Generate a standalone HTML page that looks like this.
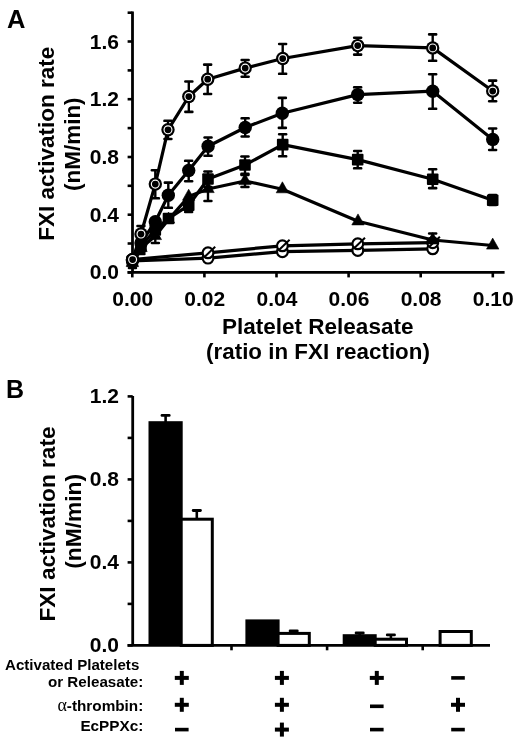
<!DOCTYPE html><html><head><meta charset="utf-8"><style>html,body{margin:0;padding:0;background:#fff;}svg{display:block;filter:grayscale(100%);}text{font-family:"Liberation Sans", sans-serif;font-weight:bold;fill:#000;}</style></head><body>
<svg width="520" height="743" viewBox="0 0 520 743">
<rect width="520" height="743" fill="#fff"/>
<text x="7.1" y="27.5" font-size="25.5">A</text>
<line x1="132.5" y1="11.5" x2="132.5" y2="272.4" stroke="#000" stroke-width="2.8"/>
<line x1="127.6" y1="272.4" x2="132.5" y2="272.4" stroke="#000" stroke-width="2.6"/>
<line x1="127.6" y1="243.5" x2="132.5" y2="243.5" stroke="#000" stroke-width="2.6"/>
<line x1="127.6" y1="214.7" x2="132.5" y2="214.7" stroke="#000" stroke-width="2.6"/>
<line x1="127.6" y1="185.8" x2="132.5" y2="185.8" stroke="#000" stroke-width="2.6"/>
<line x1="127.6" y1="157.0" x2="132.5" y2="157.0" stroke="#000" stroke-width="2.6"/>
<line x1="127.6" y1="128.1" x2="132.5" y2="128.1" stroke="#000" stroke-width="2.6"/>
<line x1="127.6" y1="99.2" x2="132.5" y2="99.2" stroke="#000" stroke-width="2.6"/>
<line x1="127.6" y1="70.4" x2="132.5" y2="70.4" stroke="#000" stroke-width="2.6"/>
<line x1="127.6" y1="41.5" x2="132.5" y2="41.5" stroke="#000" stroke-width="2.6"/>
<line x1="127.6" y1="12.7" x2="132.5" y2="12.7" stroke="#000" stroke-width="2.6"/>
<line x1="127.6" y1="272.4" x2="504.6" y2="272.4" stroke="#000" stroke-width="2.8"/>
<line x1="132.3" y1="272.4" x2="132.3" y2="277.4" stroke="#000" stroke-width="2.6"/>
<line x1="204.4" y1="272.4" x2="204.4" y2="277.4" stroke="#000" stroke-width="2.6"/>
<line x1="276.5" y1="272.4" x2="276.5" y2="277.4" stroke="#000" stroke-width="2.6"/>
<line x1="348.6" y1="272.4" x2="348.6" y2="277.4" stroke="#000" stroke-width="2.6"/>
<line x1="420.7" y1="272.4" x2="420.7" y2="277.4" stroke="#000" stroke-width="2.6"/>
<line x1="492.8" y1="272.4" x2="492.8" y2="277.4" stroke="#000" stroke-width="2.6"/>
<text x="119" y="279.4" font-size="21" text-anchor="end">0.0</text>
<text x="119" y="221.7" font-size="21" text-anchor="end">0.4</text>
<text x="119" y="164.0" font-size="21" text-anchor="end">0.8</text>
<text x="119" y="106.2" font-size="21" text-anchor="end">1.2</text>
<text x="119" y="48.5" font-size="21" text-anchor="end">1.6</text>
<text x="132.7" y="306" font-size="21" text-anchor="middle">0.00</text>
<text x="204.8" y="306" font-size="21" text-anchor="middle">0.02</text>
<text x="276.9" y="306" font-size="21" text-anchor="middle">0.04</text>
<text x="349.0" y="306" font-size="21" text-anchor="middle">0.06</text>
<text x="421.1" y="306" font-size="21" text-anchor="middle">0.08</text>
<text x="493.2" y="306" font-size="21" text-anchor="middle">0.10</text>
<text x="317.7" y="333.8" font-size="22.4" text-anchor="middle" textLength="191.6" lengthAdjust="spacingAndGlyphs">Platelet Releasate</text>
<text x="318.0" y="358.9" font-size="22.4" text-anchor="middle" textLength="223.8" lengthAdjust="spacingAndGlyphs">(ratio in FXI reaction)</text>
<text transform="translate(54.4,143.7) rotate(-90)" font-size="22.6" text-anchor="middle" textLength="194.2" lengthAdjust="spacingAndGlyphs">FXI activation rate</text>
<text transform="translate(79.8,144.2) rotate(-90)" font-size="22.6" text-anchor="middle" textLength="93.6" lengthAdjust="spacingAndGlyphs">(nM/min)</text>
<polyline fill="none" stroke="#000" stroke-width="3.2" stroke-linejoin="round" points="132.4,261.0 208.0,258.1 282.4,251.7 357.8,250.4 432.7,248.8"/><circle cx="132.4" cy="261.0" r="5.4" fill="#fff" stroke="#000" stroke-width="2.2"/><circle cx="208.0" cy="258.1" r="5.4" fill="#fff" stroke="#000" stroke-width="2.2"/><circle cx="282.4" cy="251.7" r="5.4" fill="#fff" stroke="#000" stroke-width="2.2"/><circle cx="357.8" cy="250.4" r="5.4" fill="#fff" stroke="#000" stroke-width="2.2"/><circle cx="432.7" cy="248.8" r="5.4" fill="#fff" stroke="#000" stroke-width="2.2"/>
<polyline fill="none" stroke="#000" stroke-width="3.2" stroke-linejoin="round" points="132.4,259.5 208.0,252.8 282.4,245.8 357.8,243.8 432.7,242.7"/><circle cx="132.4" cy="259.5" r="5.4" fill="#fff" stroke="#000" stroke-width="2.2"/><line x1="128.4" y1="264.1" x2="139.6" y2="253.5" stroke="#000" stroke-width="2"/><circle cx="208.0" cy="252.8" r="5.4" fill="#fff" stroke="#000" stroke-width="2.2"/><line x1="204.0" y1="257.4" x2="215.2" y2="246.8" stroke="#000" stroke-width="2"/><circle cx="282.4" cy="245.8" r="5.4" fill="#fff" stroke="#000" stroke-width="2.2"/><line x1="278.4" y1="250.4" x2="289.6" y2="239.8" stroke="#000" stroke-width="2"/><circle cx="357.8" cy="243.8" r="5.4" fill="#fff" stroke="#000" stroke-width="2.2"/><line x1="353.8" y1="248.4" x2="365.0" y2="237.8" stroke="#000" stroke-width="2"/><circle cx="432.7" cy="242.7" r="5.4" fill="#fff" stroke="#000" stroke-width="2.2"/><line x1="428.7" y1="247.3" x2="439.9" y2="236.7" stroke="#000" stroke-width="2"/>
<polyline fill="none" stroke="#000" stroke-width="3.2" stroke-linejoin="round" points="132.4,263.0 141.0,248.0 155.3,236.0 168.5,219.5 188.7,196.6 208.0,189.0 245.0,181.0 282.4,189.2 358.0,221.3 432.7,240.0 492.7,245.5"/><line x1="132.4" y1="258.0" x2="132.4" y2="268.0" stroke="#000" stroke-width="2.4"/><rect x="127.7" y="256.7" width="9.5" height="2.6" rx="1.2" fill="#000"/><rect x="127.7" y="266.7" width="9.5" height="2.6" rx="1.2" fill="#000"/><line x1="141.0" y1="242.0" x2="141.0" y2="254.0" stroke="#000" stroke-width="2.4"/><rect x="136.2" y="240.7" width="9.5" height="2.6" rx="1.2" fill="#000"/><rect x="136.2" y="252.7" width="9.5" height="2.6" rx="1.2" fill="#000"/><line x1="155.3" y1="230.0" x2="155.3" y2="243.0" stroke="#000" stroke-width="2.4"/><rect x="150.6" y="228.7" width="9.5" height="2.6" rx="1.2" fill="#000"/><rect x="150.6" y="241.7" width="9.5" height="2.6" rx="1.2" fill="#000"/><line x1="208.0" y1="177.0" x2="208.0" y2="201.0" stroke="#000" stroke-width="2.4"/><rect x="203.2" y="175.7" width="9.5" height="2.6" rx="1.2" fill="#000"/><rect x="203.2" y="199.7" width="9.5" height="2.6" rx="1.2" fill="#000"/><line x1="245.0" y1="175.0" x2="245.0" y2="187.0" stroke="#000" stroke-width="2.4"/><rect x="240.2" y="173.7" width="9.5" height="2.6" rx="1.2" fill="#000"/><rect x="240.2" y="185.7" width="9.5" height="2.6" rx="1.2" fill="#000"/><line x1="432.7" y1="233.5" x2="432.7" y2="243.0" stroke="#000" stroke-width="2.4"/><rect x="427.9" y="232.2" width="9.5" height="2.6" rx="1.2" fill="#000"/><rect x="427.9" y="241.7" width="9.5" height="2.6" rx="1.2" fill="#000"/><polygon points="132.4,255.6 126.2,266.6 138.6,266.6" fill="#000" stroke="#000" stroke-width="0.6" stroke-linejoin="round"/><polygon points="141.0,240.6 134.8,251.6 147.2,251.6" fill="#000" stroke="#000" stroke-width="0.6" stroke-linejoin="round"/><polygon points="155.3,228.6 149.1,239.6 161.5,239.6" fill="#000" stroke="#000" stroke-width="0.6" stroke-linejoin="round"/><polygon points="168.5,212.1 162.3,223.1 174.7,223.1" fill="#000" stroke="#000" stroke-width="0.6" stroke-linejoin="round"/><polygon points="188.7,189.2 182.5,200.2 194.9,200.2" fill="#000" stroke="#000" stroke-width="0.6" stroke-linejoin="round"/><polygon points="208.0,181.6 201.8,192.6 214.2,192.6" fill="#000" stroke="#000" stroke-width="0.6" stroke-linejoin="round"/><polygon points="245.0,173.6 238.8,184.6 251.2,184.6" fill="#000" stroke="#000" stroke-width="0.6" stroke-linejoin="round"/><polygon points="282.4,181.8 276.2,192.8 288.6,192.8" fill="#000" stroke="#000" stroke-width="0.6" stroke-linejoin="round"/><polygon points="358.0,213.9 351.8,224.9 364.2,224.9" fill="#000" stroke="#000" stroke-width="0.6" stroke-linejoin="round"/><polygon points="432.7,232.6 426.5,243.6 438.9,243.6" fill="#000" stroke="#000" stroke-width="0.6" stroke-linejoin="round"/><polygon points="492.7,238.1 486.5,249.1 498.9,249.1" fill="#000" stroke="#000" stroke-width="0.6" stroke-linejoin="round"/>
<polyline fill="none" stroke="#000" stroke-width="3.2" stroke-linejoin="round" points="132.4,261.0 141.0,246.0 155.3,230.0 168.5,218.5 188.7,205.3 208.0,179.0 245.0,165.0 282.7,144.6 357.7,159.6 432.7,179.2 492.7,200.2"/><line x1="141.0" y1="240.0" x2="141.0" y2="252.0" stroke="#000" stroke-width="2.4"/><rect x="136.2" y="238.7" width="9.5" height="2.6" rx="1.2" fill="#000"/><rect x="136.2" y="250.7" width="9.5" height="2.6" rx="1.2" fill="#000"/><line x1="155.3" y1="223.0" x2="155.3" y2="237.0" stroke="#000" stroke-width="2.4"/><rect x="150.6" y="221.7" width="9.5" height="2.6" rx="1.2" fill="#000"/><rect x="150.6" y="235.7" width="9.5" height="2.6" rx="1.2" fill="#000"/><line x1="188.7" y1="199.0" x2="188.7" y2="212.0" stroke="#000" stroke-width="2.4"/><rect x="183.9" y="197.7" width="9.5" height="2.6" rx="1.2" fill="#000"/><rect x="183.9" y="210.7" width="9.5" height="2.6" rx="1.2" fill="#000"/><line x1="208.0" y1="171.5" x2="208.0" y2="187.0" stroke="#000" stroke-width="2.4"/><rect x="203.2" y="170.2" width="9.5" height="2.6" rx="1.2" fill="#000"/><rect x="203.2" y="185.7" width="9.5" height="2.6" rx="1.2" fill="#000"/><line x1="245.0" y1="156.5" x2="245.0" y2="173.8" stroke="#000" stroke-width="2.4"/><rect x="240.2" y="155.2" width="9.5" height="2.6" rx="1.2" fill="#000"/><rect x="240.2" y="172.5" width="9.5" height="2.6" rx="1.2" fill="#000"/><line x1="282.7" y1="134.2" x2="282.7" y2="156.3" stroke="#000" stroke-width="2.4"/><rect x="277.9" y="132.9" width="9.5" height="2.6" rx="1.2" fill="#000"/><rect x="277.9" y="155.0" width="9.5" height="2.6" rx="1.2" fill="#000"/><line x1="357.7" y1="151.0" x2="357.7" y2="168.3" stroke="#000" stroke-width="2.4"/><rect x="352.9" y="149.7" width="9.5" height="2.6" rx="1.2" fill="#000"/><rect x="352.9" y="167.0" width="9.5" height="2.6" rx="1.2" fill="#000"/><line x1="432.7" y1="169.2" x2="432.7" y2="188.1" stroke="#000" stroke-width="2.4"/><rect x="427.9" y="167.9" width="9.5" height="2.6" rx="1.2" fill="#000"/><rect x="427.9" y="186.8" width="9.5" height="2.6" rx="1.2" fill="#000"/><line x1="492.7" y1="195.0" x2="492.7" y2="205.0" stroke="#000" stroke-width="2.4"/><rect x="487.9" y="193.7" width="9.5" height="2.6" rx="1.2" fill="#000"/><rect x="487.9" y="203.7" width="9.5" height="2.6" rx="1.2" fill="#000"/><rect x="126.6" y="255.2" width="11.6" height="11.6" rx="1" fill="#000"/><rect x="135.2" y="240.2" width="11.6" height="11.6" rx="1" fill="#000"/><rect x="149.5" y="224.2" width="11.6" height="11.6" rx="1" fill="#000"/><rect x="162.7" y="212.7" width="11.6" height="11.6" rx="1" fill="#000"/><rect x="182.9" y="199.5" width="11.6" height="11.6" rx="1" fill="#000"/><rect x="202.2" y="173.2" width="11.6" height="11.6" rx="1" fill="#000"/><rect x="239.2" y="159.2" width="11.6" height="11.6" rx="1" fill="#000"/><rect x="276.9" y="138.8" width="11.6" height="11.6" rx="1" fill="#000"/><rect x="351.9" y="153.8" width="11.6" height="11.6" rx="1" fill="#000"/><rect x="426.9" y="173.4" width="11.6" height="11.6" rx="1" fill="#000"/><rect x="486.9" y="194.4" width="11.6" height="11.6" rx="1" fill="#000"/>
<polyline fill="none" stroke="#000" stroke-width="3.2" stroke-linejoin="round" points="132.4,260.0 141.0,243.0 155.3,221.7 168.3,195.2 188.7,170.5 208.1,146.2 245.2,127.5 282.3,113.2 357.7,94.6 432.7,91.2 492.7,139.4"/><line x1="141.0" y1="236.0" x2="141.0" y2="250.0" stroke="#000" stroke-width="2.4"/><rect x="136.2" y="234.7" width="9.5" height="2.6" rx="1.2" fill="#000"/><rect x="136.2" y="248.7" width="9.5" height="2.6" rx="1.2" fill="#000"/><line x1="168.3" y1="182.6" x2="168.3" y2="207.8" stroke="#000" stroke-width="2.4"/><rect x="163.6" y="181.3" width="9.5" height="2.6" rx="1.2" fill="#000"/><rect x="163.6" y="206.5" width="9.5" height="2.6" rx="1.2" fill="#000"/><line x1="188.7" y1="160.8" x2="188.7" y2="181.2" stroke="#000" stroke-width="2.4"/><rect x="183.9" y="159.5" width="9.5" height="2.6" rx="1.2" fill="#000"/><rect x="183.9" y="179.9" width="9.5" height="2.6" rx="1.2" fill="#000"/><line x1="208.1" y1="137.5" x2="208.1" y2="155.8" stroke="#000" stroke-width="2.4"/><rect x="203.3" y="136.2" width="9.5" height="2.6" rx="1.2" fill="#000"/><rect x="203.3" y="154.5" width="9.5" height="2.6" rx="1.2" fill="#000"/><line x1="245.2" y1="118.3" x2="245.2" y2="136.5" stroke="#000" stroke-width="2.4"/><rect x="240.4" y="117.0" width="9.5" height="2.6" rx="1.2" fill="#000"/><rect x="240.4" y="135.2" width="9.5" height="2.6" rx="1.2" fill="#000"/><line x1="282.3" y1="97.9" x2="282.3" y2="127.9" stroke="#000" stroke-width="2.4"/><rect x="277.6" y="96.6" width="9.5" height="2.6" rx="1.2" fill="#000"/><rect x="277.6" y="126.6" width="9.5" height="2.6" rx="1.2" fill="#000"/><line x1="357.7" y1="87.3" x2="357.7" y2="102.7" stroke="#000" stroke-width="2.4"/><rect x="352.9" y="86.0" width="9.5" height="2.6" rx="1.2" fill="#000"/><rect x="352.9" y="101.4" width="9.5" height="2.6" rx="1.2" fill="#000"/><line x1="432.7" y1="74.2" x2="432.7" y2="108.8" stroke="#000" stroke-width="2.4"/><rect x="427.9" y="72.9" width="9.5" height="2.6" rx="1.2" fill="#000"/><rect x="427.9" y="107.5" width="9.5" height="2.6" rx="1.2" fill="#000"/><line x1="492.7" y1="128.5" x2="492.7" y2="150.0" stroke="#000" stroke-width="2.4"/><rect x="487.9" y="127.2" width="9.5" height="2.6" rx="1.2" fill="#000"/><rect x="487.9" y="148.7" width="9.5" height="2.6" rx="1.2" fill="#000"/><circle cx="132.4" cy="260.0" r="6.7" fill="#000"/><circle cx="141.0" cy="243.0" r="6.7" fill="#000"/><circle cx="155.3" cy="221.7" r="6.7" fill="#000"/><circle cx="168.3" cy="195.2" r="6.7" fill="#000"/><circle cx="188.7" cy="170.5" r="6.7" fill="#000"/><circle cx="208.1" cy="146.2" r="6.7" fill="#000"/><circle cx="245.2" cy="127.5" r="6.7" fill="#000"/><circle cx="282.3" cy="113.2" r="6.7" fill="#000"/><circle cx="357.7" cy="94.6" r="6.7" fill="#000"/><circle cx="432.7" cy="91.2" r="6.7" fill="#000"/><circle cx="492.7" cy="139.4" r="6.7" fill="#000"/>
<polyline fill="none" stroke="#000" stroke-width="3.2" stroke-linejoin="round" points="132.6,259.5 141.0,234.0 155.3,184.1 168.0,129.8 188.8,96.5 207.7,79.2 245.2,68.1 282.7,58.5 357.7,45.6 432.7,47.9 492.7,91.0"/><line x1="141.0" y1="226.0" x2="141.0" y2="242.0" stroke="#000" stroke-width="2.4"/><rect x="136.2" y="224.7" width="9.5" height="2.6" rx="1.2" fill="#000"/><rect x="136.2" y="240.7" width="9.5" height="2.6" rx="1.2" fill="#000"/><line x1="155.3" y1="170.2" x2="155.3" y2="198.3" stroke="#000" stroke-width="2.4"/><rect x="150.6" y="168.9" width="9.5" height="2.6" rx="1.2" fill="#000"/><rect x="150.6" y="197.0" width="9.5" height="2.6" rx="1.2" fill="#000"/><line x1="168.0" y1="120.8" x2="168.0" y2="139.0" stroke="#000" stroke-width="2.4"/><rect x="163.2" y="119.5" width="9.5" height="2.6" rx="1.2" fill="#000"/><rect x="163.2" y="137.7" width="9.5" height="2.6" rx="1.2" fill="#000"/><line x1="188.8" y1="81.5" x2="188.8" y2="111.9" stroke="#000" stroke-width="2.4"/><rect x="184.1" y="80.2" width="9.5" height="2.6" rx="1.2" fill="#000"/><rect x="184.1" y="110.6" width="9.5" height="2.6" rx="1.2" fill="#000"/><line x1="207.7" y1="64.6" x2="207.7" y2="94.0" stroke="#000" stroke-width="2.4"/><rect x="202.9" y="63.3" width="9.5" height="2.6" rx="1.2" fill="#000"/><rect x="202.9" y="92.7" width="9.5" height="2.6" rx="1.2" fill="#000"/><line x1="245.2" y1="60.0" x2="245.2" y2="76.7" stroke="#000" stroke-width="2.4"/><rect x="240.4" y="58.7" width="9.5" height="2.6" rx="1.2" fill="#000"/><rect x="240.4" y="75.4" width="9.5" height="2.6" rx="1.2" fill="#000"/><line x1="282.7" y1="44.0" x2="282.7" y2="73.8" stroke="#000" stroke-width="2.4"/><rect x="277.9" y="42.7" width="9.5" height="2.6" rx="1.2" fill="#000"/><rect x="277.9" y="72.5" width="9.5" height="2.6" rx="1.2" fill="#000"/><line x1="357.7" y1="37.7" x2="357.7" y2="54.6" stroke="#000" stroke-width="2.4"/><rect x="352.9" y="36.4" width="9.5" height="2.6" rx="1.2" fill="#000"/><rect x="352.9" y="53.3" width="9.5" height="2.6" rx="1.2" fill="#000"/><line x1="432.7" y1="34.4" x2="432.7" y2="60.8" stroke="#000" stroke-width="2.4"/><rect x="427.9" y="33.1" width="9.5" height="2.6" rx="1.2" fill="#000"/><rect x="427.9" y="59.5" width="9.5" height="2.6" rx="1.2" fill="#000"/><line x1="492.7" y1="80.6" x2="492.7" y2="101.2" stroke="#000" stroke-width="2.4"/><rect x="487.9" y="79.3" width="9.5" height="2.6" rx="1.2" fill="#000"/><rect x="487.9" y="99.9" width="9.5" height="2.6" rx="1.2" fill="#000"/><circle cx="132.6" cy="259.5" r="6.7" fill="#000"/><circle cx="132.6" cy="259.5" r="3.95" fill="none" stroke="#fff" stroke-width="1.15"/><circle cx="141.0" cy="234.0" r="6.7" fill="#000"/><circle cx="141.0" cy="234.0" r="3.95" fill="none" stroke="#fff" stroke-width="1.15"/><circle cx="155.3" cy="184.1" r="6.7" fill="#000"/><circle cx="155.3" cy="184.1" r="3.95" fill="none" stroke="#fff" stroke-width="1.15"/><circle cx="168.0" cy="129.8" r="6.7" fill="#000"/><circle cx="168.0" cy="129.8" r="3.95" fill="none" stroke="#fff" stroke-width="1.15"/><circle cx="188.8" cy="96.5" r="6.7" fill="#000"/><circle cx="188.8" cy="96.5" r="3.95" fill="none" stroke="#fff" stroke-width="1.15"/><circle cx="207.7" cy="79.2" r="6.7" fill="#000"/><circle cx="207.7" cy="79.2" r="3.95" fill="none" stroke="#fff" stroke-width="1.15"/><circle cx="245.2" cy="68.1" r="6.7" fill="#000"/><circle cx="245.2" cy="68.1" r="3.95" fill="none" stroke="#fff" stroke-width="1.15"/><circle cx="282.7" cy="58.5" r="6.7" fill="#000"/><circle cx="282.7" cy="58.5" r="3.95" fill="none" stroke="#fff" stroke-width="1.15"/><circle cx="357.7" cy="45.6" r="6.7" fill="#000"/><circle cx="357.7" cy="45.6" r="3.95" fill="none" stroke="#fff" stroke-width="1.15"/><circle cx="432.7" cy="47.9" r="6.7" fill="#000"/><circle cx="432.7" cy="47.9" r="3.95" fill="none" stroke="#fff" stroke-width="1.15"/><circle cx="492.7" cy="91.0" r="6.7" fill="#000"/><circle cx="492.7" cy="91.0" r="3.95" fill="none" stroke="#fff" stroke-width="1.15"/>
<text x="6.0" y="398.2" font-size="25">B</text>
<line x1="132.7" y1="396" x2="132.7" y2="645.4" stroke="#000" stroke-width="2.8"/>
<line x1="127.6" y1="645.4" x2="132.7" y2="645.4" stroke="#000" stroke-width="2.6"/>
<line x1="127.6" y1="603.9" x2="132.7" y2="603.9" stroke="#000" stroke-width="2.6"/>
<line x1="127.6" y1="562.4" x2="132.7" y2="562.4" stroke="#000" stroke-width="2.6"/>
<line x1="127.6" y1="520.9" x2="132.7" y2="520.9" stroke="#000" stroke-width="2.6"/>
<line x1="127.6" y1="479.4" x2="132.7" y2="479.4" stroke="#000" stroke-width="2.6"/>
<line x1="127.6" y1="437.9" x2="132.7" y2="437.9" stroke="#000" stroke-width="2.6"/>
<line x1="127.6" y1="396.4" x2="132.7" y2="396.4" stroke="#000" stroke-width="2.6"/>
<text x="119" y="652.4" font-size="21" text-anchor="end">0.0</text>
<text x="119" y="569.4" font-size="21" text-anchor="end">0.4</text>
<text x="119" y="486.4" font-size="21" text-anchor="end">0.8</text>
<text x="119" y="403.4" font-size="21" text-anchor="end">1.2</text>
<text transform="translate(55.2,524.0) rotate(-90)" font-size="22.8" text-anchor="middle" textLength="195.2" lengthAdjust="spacingAndGlyphs">FXI activation rate</text>
<text transform="translate(80.6,521.4) rotate(-90)" font-size="22.8" text-anchor="middle" textLength="94.9" lengthAdjust="spacingAndGlyphs">(nM/min)</text>
<rect x="148.5" y="421.2" width="34.2" height="224.2" fill="#000"/>
<line x1="165.6" y1="415.4" x2="165.6" y2="422.2" stroke="#000" stroke-width="2.6"/>
<rect x="160.6" y="414.0" width="10" height="2.8" rx="1.3" fill="#000"/>
<rect x="181.2" y="519.2" width="31.1" height="126.2" fill="#fff" stroke="#000" stroke-width="3"/>
<line x1="196.8" y1="510.5" x2="196.8" y2="518.7" stroke="#000" stroke-width="2.6"/>
<rect x="191.8" y="509.1" width="10" height="2.8" rx="1.3" fill="#000"/>
<rect x="245.4" y="619.4" width="34.2" height="26.0" fill="#000"/>
<rect x="278.1" y="633.4" width="31.2" height="12.0" fill="#fff" stroke="#000" stroke-width="3"/>
<line x1="293.7" y1="631.0" x2="293.7" y2="632.9" stroke="#000" stroke-width="2.6"/>
<rect x="288.7" y="629.6" width="10" height="2.8" rx="1.3" fill="#000"/>
<rect x="342.7" y="634.2" width="34.0" height="11.2" fill="#000"/>
<line x1="359.7" y1="633.0" x2="359.7" y2="635.2" stroke="#000" stroke-width="2.6"/>
<rect x="354.7" y="631.6" width="10" height="2.8" rx="1.3" fill="#000"/>
<rect x="375.2" y="639.2" width="31.3" height="6.2" fill="#fff" stroke="#000" stroke-width="3"/>
<line x1="390.9" y1="634.8" x2="390.9" y2="638.7" stroke="#000" stroke-width="2.6"/>
<rect x="385.9" y="633.4" width="10" height="2.8" rx="1.3" fill="#000"/>
<rect x="440.1" y="631.5" width="31.2" height="13.9" fill="#fff" stroke="#000" stroke-width="3"/>
<line x1="127.6" y1="645.4" x2="490" y2="645.4" stroke="#000" stroke-width="2.8"/>
<line x1="231.5" y1="645.4" x2="231.5" y2="650.3" stroke="#000" stroke-width="2.6"/>
<line x1="327.1" y1="645.4" x2="327.1" y2="650.3" stroke="#000" stroke-width="2.6"/>
<line x1="422.7" y1="645.4" x2="422.7" y2="650.3" stroke="#000" stroke-width="2.6"/>
<text x="5.0" y="669.5" font-size="14.8" textLength="134.3" lengthAdjust="spacingAndGlyphs">Activated Platelets</text>
<text x="143.3" y="686.7" font-size="15.2" text-anchor="end">or Releasate:</text>
<text x="143.3" y="710.6" font-size="15.3" text-anchor="end"><tspan style="font-family:&quot;Liberation Serif&quot;,serif;font-weight:normal;font-size:18px">&#945;</tspan>-thrombin:</text>
<text x="143.3" y="731.3" font-size="15.3" text-anchor="end">EcPPXc:</text>
<rect x="174.8" y="675.9" width="14" height="4" fill="#000"/><rect x="179.8" y="670.9" width="4" height="14" fill="#000"/>
<rect x="274.9" y="675.9" width="14" height="4" fill="#000"/><rect x="279.9" y="670.9" width="4" height="14" fill="#000"/>
<rect x="369.8" y="675.9" width="14" height="4" fill="#000"/><rect x="374.8" y="670.9" width="4" height="14" fill="#000"/>
<rect x="451.2" y="676.1" width="13.6" height="3.6" fill="#000"/>
<rect x="174.8" y="702.8" width="14" height="4" fill="#000"/><rect x="179.8" y="697.8" width="4" height="14" fill="#000"/>
<rect x="274.9" y="702.8" width="14" height="4" fill="#000"/><rect x="279.9" y="697.8" width="4" height="14" fill="#000"/>
<rect x="370.0" y="704.5" width="13.6" height="3.6" fill="#000"/>
<rect x="451.0" y="702.8" width="14" height="4" fill="#000"/><rect x="456.0" y="697.8" width="4" height="14" fill="#000"/>
<rect x="175.0" y="727.8" width="13.6" height="3.6" fill="#000"/>
<rect x="274.9" y="727.6" width="14" height="4" fill="#000"/><rect x="279.9" y="722.6" width="4" height="14" fill="#000"/>
<rect x="370.0" y="727.8" width="13.6" height="3.6" fill="#000"/>
<rect x="451.2" y="727.8" width="13.6" height="3.6" fill="#000"/>
</svg></body></html>
